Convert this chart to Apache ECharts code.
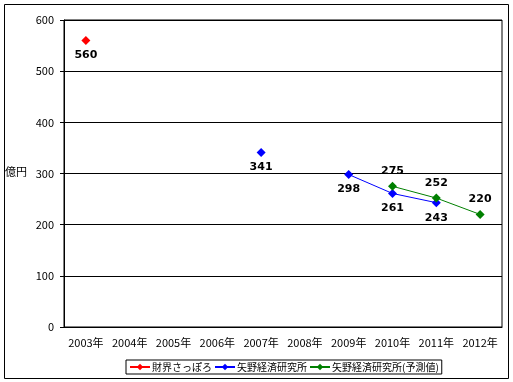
<!DOCTYPE html>
<html><head><meta charset="utf-8">
<script src="https://cdn.jsdelivr.net/npm/echarts@6/dist/echarts.min.js"></script>
<style>html,body{margin:0;padding:0;background:#fff}#c{width:513px;height:382px}</style>
</head><body><div id="c"></div>
<script>
const categories = ['2003年','2004年','2005年','2006年','2007年','2008年','2009年','2010年','2011年','2012年'];
const zaikai = [560, null, null, null, null, null, null, null, null, null];
const yano = [null, null, null, null, 341, null, 298, 261, 243, null];
const yanoForecast = [null, null, null, null, null, null, null, 275, 252, 220];
const seriesNames = ['財界さっぽろ', '矢野経済研究所', '矢野経済研究所(予測値)'];
const yTicks = [0, 100, 200, 300, 400, 500, 600];
const yUnit = '億円';

const FONT = '"Noto Sans CJK JP", sans-serif';
const chart = echarts.init(document.getElementById('c'));
function mk(name, data, color, pos) {
  return {
    name, type: 'line', data, connectNulls: false,
    symbol: 'diamond', symbolSize: 9,
    lineStyle: { color, width: 1 }, itemStyle: { color },
    label: { show: true, position: pos, distance: 5, color: '#000', fontWeight: 'bold', fontSize: 11, fontFamily: 'DejaVu Sans' },
    emphasis: { disabled: true }, animation: false
  };
}
chart.setOption({
  animation: false,
  graphic: [{ type: 'rect', shape: { x: 4.5, y: 4.5, width: 504, height: 374 }, style: { fill: null, stroke: '#000', lineWidth: 1 } },
    { type: 'text', left: 5, top: 166, style: { text: yUnit, font: '11px ' + FONT, fill: '#000' } }],
  grid: { left: 64, right: 11, top: 20, bottom: 55, show: true, borderColor: '#000', borderWidth: 1 },
  legend: {
    data: seriesNames, left: 126, top: 360, width: 380, padding: [2, 3, 2, 3], itemGap: 2,
    borderColor: '#000', borderWidth: 1, itemWidth: 20, itemHeight: 8,
    textStyle: { fontSize: 10, fontFamily: FONT, color: '#000', padding: [0, 0, 0, -3] }
  },
  xAxis: {
    type: 'category', data: categories, boundaryGap: true,
    axisLine: { lineStyle: { color: '#000' } },
    axisTick: { inside: true, length: 4, lineStyle: { color: '#000' } },
    axisLabel: { color: '#000', fontSize: 11, fontFamily: FONT, margin: 10, interval: 0 },
    splitLine: { show: false }
  },
  yAxis: {
    type: 'value', min: yTicks[0], max: yTicks[yTicks.length - 1], interval: 100,
    axisLine: { show: true, lineStyle: { color: '#000' } },
    axisTick: { show: true, length: 4, lineStyle: { color: '#000' } },
    axisLabel: { color: '#000', fontSize: 11, fontFamily: FONT, margin: 10 },
    splitLine: { lineStyle: { color: '#000', width: 1 } }
  },
  series: [
    mk(seriesNames[0], zaikai, '#ff0000', 'bottom'),
    mk(seriesNames[1], yano, '#0000ff', 'bottom'),
    mk(seriesNames[2], yanoForecast, '#008000', 'top')
  ]
});
</script></body></html>
